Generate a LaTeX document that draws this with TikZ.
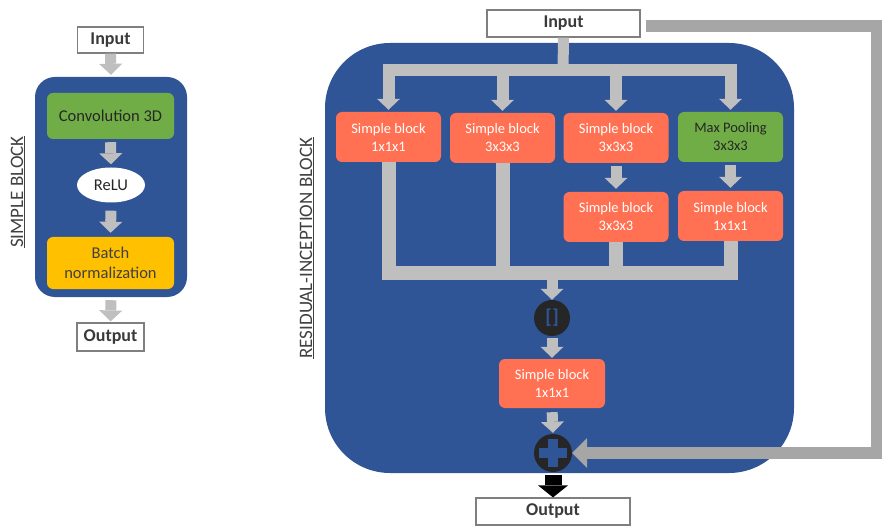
\documentclass[tikz,border=0pt]{standalone}
\usepackage{fontspec}
\setmainfont{Carlito}
\usetikzlibrary{arrows.meta,shapes.geometric}
\definecolor{bblue}{HTML}{2F5597}
\definecolor{sorange}{HTML}{FF7152}
\definecolor{cgreen}{HTML}{70AD47}
\definecolor{cyellow}{HTML}{FFC000}
\definecolor{agray}{HTML}{BFBFBF}
\definecolor{skgray}{HTML}{A6A6A6}
\definecolor{iogray}{HTML}{7F7F7F}
\definecolor{txtdark}{HTML}{3A3A3A}
\definecolor{labgray}{HTML}{404040}
\definecolor{circdark}{HTML}{262626}
\tikzset{
  iobox/.style={draw=iogray, line width=1.2pt, fill=white, inner sep=0pt,
    text=txtdark, font=\bfseries\fontsize{18}{20}\selectfont},
  bigblue/.style={fill=bblue, inner sep=0pt},
  sbox/.style={fill=sorange, rounded corners=6pt, text=white, inner sep=0pt,
    minimum width=105pt, minimum height=50pt, align=center,
    font=\fontsize{14.5}{18}\selectfont},
  gbox/.style={fill=cgreen, rounded corners=6pt, text=circdark, inner sep=0pt,
    align=center},
  gline/.style={draw=agray, line width=12pt, line join=miter},
  garrow/.style={draw=agray, line width=11pt, line join=miter,
    -{Triangle[width=23pt,length=11pt,line width=0pt]}},
  skiparrow/.style={draw=skgray, line width=12pt, line join=miter,
    -{Triangle[width=30pt,length=15pt,line width=0pt]}},
  barrow/.style={draw=black, line width=17pt,
    -{Triangle[width=30pt,length=12pt,line width=0pt]}},
  opcirc/.style={circle, fill=circdark, inner sep=0pt},
  sidelabel/.style={rotate=90, text=labgray, font=\fontsize{19}{22}\selectfont},
}
\begin{document}
\begin{tikzpicture}[x=1pt,y=-1pt]
\useasboundingbox (0,0) rectangle (882,526);
% ---------------- left: simple block ----------------
\node[bigblue, rounded corners=20pt, minimum width=152pt, minimum height=220pt] (lblk) at (111,187) {};
\node[iobox, minimum width=66pt, minimum height=26pt] (lin) at (110.5,40) {Input};
\node[gbox, minimum width=127pt, minimum height=46pt, font=\fontsize{16.5}{20}\selectfont] (conv) at (110.5,116) {Convolution 3D};
\node[ellipse, fill=white, inner sep=0pt, minimum width=68pt, minimum height=35pt, text=circdark, font=\fontsize{16.5}{20}\selectfont] (relu) at (111,185) {ReLU};
\node[fill=cyellow, rounded corners=6pt, inner sep=0pt, minimum width=127pt, minimum height=52pt, align=center, text=labgray, font=\fontsize{16.5}{20}\selectfont] (bn) at (110.5,263) {Batch\\normalization};
\node[iobox, minimum width=67pt, minimum height=28pt] (lout) at (110.5,337) {Output};
\draw[garrow, shorten >=2pt] (lin.south) -- (lblk.north);
\draw[garrow, shorten <=3pt, shorten >=3pt] (conv.south) -- (relu.north);
\draw[garrow, shorten <=8pt, shorten >=4pt] (relu.south) -- (bn.north);
\draw[garrow, shorten <=3pt, shorten >=1pt] (lblk.south) -- (lout.north);
\node[sidelabel] (lab1) at (18,192) {\underline{SIMPLE BLOCK}};
% ---------------- right: residual-inception block ----------------
\node[bigblue, rounded corners=65pt, minimum width=469pt, minimum height=430pt] (rblk) at (559.5,258) {};
\node[iobox, minimum width=153pt, minimum height=27pt] (rin) at (563.5,23.5) {Input};
\node[sbox] (b1) at (388.5,137) {Simple block\\1x1x1};
\node[sbox] (b2) at (502.5,138) {Simple block\\3x3x3};
\node[sbox] (b3) at (616,138) {Simple block\\3x3x3};
\node[gbox, minimum width=105pt, minimum height=50pt, font=\fontsize{14.5}{18}\selectfont] (b4) at (730.5,137) {Max Pooling\\3x3x3};
\node[sbox] (b5) at (616,217) {Simple block\\3x3x3};
\node[sbox] (b6) at (730.5,216) {Simple block\\1x1x1};
\node[sbox, minimum width=106pt, minimum height=49pt] (b7) at (552,383.5) {Simple block\\1x1x1};
\node[opcirc, minimum size=36pt, text=bblue, font=\bfseries\fontsize{20}{20}\selectfont] (cat) at (552,318) {[\kern0.5pt]};
\node[opcirc, minimum size=38pt] (plus) at (553,453) {};
\draw[draw=bblue, line width=10pt] ([xshift=-14pt]plus.center) -- ([xshift=14pt]plus.center);
\draw[draw=bblue, line width=10pt] ([yshift=-14pt]plus.center) -- ([yshift=14pt]plus.center);
\node[iobox, minimum width=154pt, minimum height=27pt] (rout) at (553,511.5) {Output};
% distribution
\coordinate (split) at (563,70);
\draw[gline, line width=11pt] (rin.south) -- (split);
\foreach \b in {b1,b2,b3,b4} \draw[garrow, line width=12pt, shorten >=2pt] (split) -| (\b.north);
\draw[garrow, shorten <=3pt, shorten >=3pt] (b3.south) -- (b5.north);
\draw[garrow, shorten <=3pt, shorten >=3pt] (b4.south) -- (b6.north);
% collection
\coordinate (merge) at (552,273);
\draw[gline, line width=14pt] (b1.south) |- (b6.south |- merge) -- (b6.south);
\draw[gline, line width=14pt] (b2.south) -- (b2.south |- merge);
\draw[gline, line width=14pt] (b5.south) -- (b5.south |- merge);
\draw[garrow] (merge) -- (cat.north);
\draw[garrow, shorten <=2pt, shorten >=1pt] (cat.south) -- (b7.north);
\draw[garrow, shorten <=4pt, shorten >=1pt] (b7.south) -- (plus.north);
\draw[barrow, shorten <=3pt] (plus.south) -- (rout.north);
% skip connection
\coordinate (skipstart) at (646,26.5);
\coordinate (skipcorner) at (877,26.5);
\draw[skiparrow] (skipstart) -- (skipcorner) |- (plus.east);
\node[sidelabel] (lab2) at (307,248) {\underline{RESIDUAL-INCEPTION BLOCK}};
\end{tikzpicture}
\end{document}
